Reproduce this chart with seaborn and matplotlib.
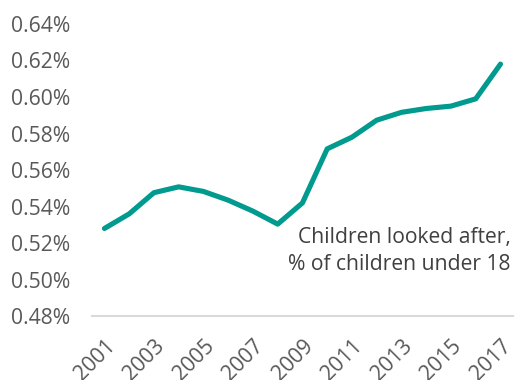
import matplotlib
matplotlib.use("Agg")
import matplotlib.pyplot as plt
import seaborn as sns
import pandas as pd
import numpy as np

years = list(range(2001, 2018))
pct_looked_after = [0.528, 0.536, 0.5476, 0.5508, 0.5483, 0.5435, 0.5375, 0.5304,
                    0.5420, 0.5716, 0.5780, 0.5873, 0.5916, 0.5937, 0.5950, 0.5990, 0.6180]
y_ticks = [0.48, 0.50, 0.52, 0.54, 0.56, 0.58, 0.60, 0.62, 0.64]
x_ticks = list(range(2001, 2018, 2))
label_text = "Children looked after,\n% of children under 18"

df = pd.DataFrame({"year": years, "pct": pct_looked_after})

sns.set_theme(style="white")
plt.rcParams['font.family'] = ['Open Sans', 'DejaVu Sans']

fig = plt.figure(figsize=(5.17, 3.80), dpi=100)
ax = fig.add_axes([0.178, 0.168, 0.814, 0.769])

sns.lineplot(data=df, x="year", y="pct", ax=ax, color="#009A8F", linewidth=3.7,
             solid_capstyle="round", solid_joinstyle="round")

ax.set_xlim(2000.5, 2017.5)
ax.set_ylim(0.48, 0.64)
ax.set_yticks(y_ticks)
ax.set_yticklabels([f"{v:.2f}%" for v in y_ticks], fontsize=15.2, color="#595959")
ax.set_xticks(x_ticks)
ax.set_xticklabels([str(x) for x in x_ticks], fontsize=15.2, color="#595959",
                   rotation=45, ha="right", rotation_mode="anchor")
ax.tick_params(axis="both", length=0)
ax.tick_params(axis="y", pad=16)
ax.tick_params(axis="x", pad=14)
ax.set_xlabel("")
ax.set_ylabel("")

for s in ["top", "right", "left"]:
    ax.spines[s].set_visible(False)
ax.spines["bottom"].set_color("#D9D9D9")
ax.spines["bottom"].set_linewidth(1.5)

ax.text(2017.4, 0.5157, label_text, ha="right", va="center", fontsize=15.2,
        color="#404040", linespacing=1.4)

fig.savefig("out.png", dpi=100)
